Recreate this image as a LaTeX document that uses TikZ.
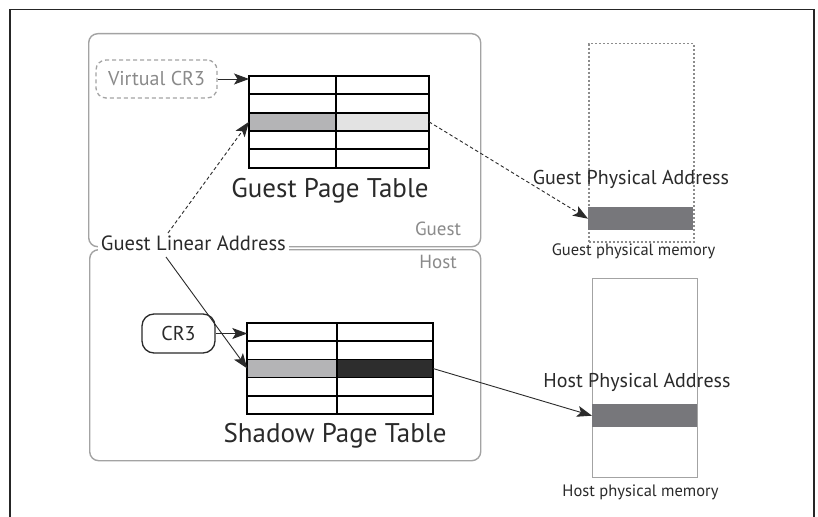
\documentclass[tikz,border=0pt]{standalone}
\usepackage{fontspec}
\setmainfont{PT Sans}
\usetikzlibrary{arrows.meta,calc}
\definecolor{boxgray}{HTML}{A3A3A3}
\definecolor{labelgray}{HTML}{8A8A8A}
\definecolor{keygray}{HTML}{B4B4B6}
\definecolor{pagegray}{HTML}{E3E3E3}
\definecolor{shadowdark}{HTML}{2D2D2D}
\definecolor{membar}{HTML}{77777B}
\definecolor{inkgray}{HTML}{2A2A2A}

\newcommand{\bigtext}{\fontsize{27}{30}\selectfont}
\newcommand{\midtext}{\fontsize{20}{23}\selectfont}
\newcommand{\labtext}{\fontsize{19}{22}\selectfont}
\newcommand{\smalltext}{\fontsize{16.5}{19}\selectfont}

\begin{document}
\begin{tikzpicture}[x=1pt,y=-1pt,
  region/.style={draw=boxgray, line width=1.4pt, rounded corners=9pt,
    inner sep=0pt, anchor=north west},
  cell/.style={draw=black, line width=1.7pt, inner sep=0pt, outer sep=0pt,
    anchor=north west},
  memframe/.style={draw=boxgray, line width=1.4pt, inner sep=0pt,
    anchor=north west, minimum width=105pt},
  membarbox/.style={fill=membar, inner sep=0pt, anchor=north west,
    minimum width=105pt, minimum height=23pt},
  link/.style={draw=inkgray, line width=0.9pt,
    -{Stealth[length=15pt,width=11pt,inset=3.5pt]}},
  dashlink/.style={link, dash pattern=on 3.5pt off 2.5pt},
  regname/.style={text=labelgray, inner sep=0pt, anchor=base, font=\labtext},
  caption/.style={text=inkgray, inner sep=0pt, anchor=base},
]
\useasboundingbox (0,0) rectangle (818,516);
\fill[white] (0,0) rectangle (818,516);

% outer frame, open at the bottom
\draw[line width=1.8pt, draw=black!85] (10,518) -- (10,9.5) -- (814,9.5) -- (814,518);

% guest and host regions
\node[region, minimum width=392pt, minimum height=213pt] (guest) at (88,33) {};
\node[region, minimum width=391pt, minimum height=211pt] (host) at (89,249) {};
\node[regname] (guestlbl) at (438,235) {Guest};
\node[regname] (hostlbl) at (438,268) {Host};

% guest page table
\foreach \r in {1,2,4,5}{
  \node[cell, minimum width=87pt, minimum height=18.33pt] (g\r1) at (249,{76+(\r-1)*18.33}) {};
  \node[cell, minimum width=93pt, minimum height=18.33pt] (g\r2) at (336,{76+(\r-1)*18.33}) {};
}
\node[cell, fill=keygray, minimum width=87pt, minimum height=18.33pt] (g31) at (249,112.66) {};
\node[cell, fill=pagegray, minimum width=93pt, minimum height=18.33pt] (g32) at (336,112.66) {};
\node[caption, font=\bigtext] (gptlbl) at (330,197) {Guest Page Table};

% shadow page table
\foreach \r in {1,2,4,5}{
  \node[cell, minimum width=89.4pt, minimum height=18.2pt] (s\r1) at (247.3,{323+(\r-1)*18.2}) {};
  \node[cell, minimum width=96.3pt, minimum height=18.2pt] (s\r2) at (336.7,{323+(\r-1)*18.2}) {};
}
\node[cell, fill=keygray, minimum width=89.4pt, minimum height=18.2pt] (s31) at (247.3,359.4) {};
\node[cell, fill=shadowdark, minimum width=96.3pt, minimum height=18.2pt] (s32) at (336.7,359.4) {};
\node[caption, font=\bigtext] (sptlbl) at (335,442) {Shadow Page Table};

% CR3 registers
\node[draw=boxgray, dash pattern=on 4pt off 3pt, line width=1.3pt,
  rounded corners=10pt, minimum width=121pt, minimum height=38pt,
  inner sep=0pt, text=labelgray, font=\fontsize{20}{23}\selectfont] (vcr3) at (156.5,79) {Virtual CR3};
\node[draw=inkgray, line width=1.3pt, rounded corners=12pt,
  minimum width=73pt, minimum height=39pt, inner sep=0pt,
  text=inkgray, font=\fontsize{20}{23}\selectfont] (cr3) at (178.5,333.5) {CR3};

% guest physical memory
\node[memframe, draw=black!45, dash pattern=on 2pt off 2pt, line width=1.5pt,
  minimum height=198pt] (gmem) at (588,43) {};
\node[membarbox] (gbar) at (588,207) {};
\node[caption, font=\midtext] (gpa) at (631,184) {Guest Physical Address};
\node[caption, font=\smalltext] (gmemlbl) at (633.5,255) {Guest physical memory};

% host physical memory
\node[memframe, minimum height=199pt] (hmem) at (592,278) {};
\node[membarbox] (hbar) at (592,404) {};
\node[caption, font=\midtext] (hpa) at (637,387) {Host Physical Address};
\node[caption, font=\smalltext] (hmemlbl) at (640.5,496) {Host physical memory};

% guest linear address, masking the region borders behind it
\node[fill=white, inner ysep=2pt, inner xsep=3pt, anchor=base west,
  text=inkgray, font=\fontsize{20.6}{23}\selectfont] (gla) at (97.7,250.7) {Guest Linear Address\hspace{9pt}};
\coordinate (glaup) at (168,233);
\coordinate (gladown) at (166,257);

% translations
\draw[link] (vcr3.east) -- (vcr3.east -| g11.west);
\draw[link] (cr3.east) -- (cr3.east -| s11.west);
\draw[dashlink] (glaup) -- (g31.west);
\draw[link] (gladown) -- (s31.west);
\draw[dashlink] (g32.east) -- (gbar.west);
\draw[link] (s32.east) -- (hbar.west);
\end{tikzpicture}
\end{document}
